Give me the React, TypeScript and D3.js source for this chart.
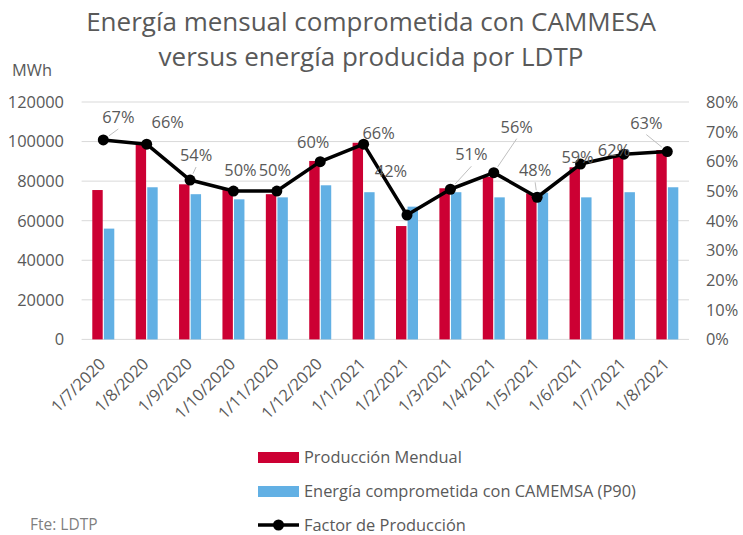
import React from "react";
import * as d3 from "d3";

const categories = ["1/7/2020","1/8/2020","1/9/2020","1/10/2020","1/11/2020","1/12/2020","1/1/2021","1/2/2021","1/3/2021","1/4/2021","1/5/2021","1/6/2021","1/7/2021","1/8/2021"];
const produccion = [75500, 98300, 78400, 75500, 73400, 90200, 99400, 57300, 76400, 82200, 73800, 87000, 92400, 95700];
const comprometida = [56000, 76900, 73400, 70800, 71800, 77900, 74400, 67100, 74400, 71800, 74200, 71800, 74400, 76900];
const factor = [0.672, 0.658, 0.537, 0.5, 0.5, 0.599, 0.658, 0.419, 0.506, 0.562, 0.479, 0.591, 0.624, 0.633];
const leftTicks = [0, 20000, 40000, 60000, 80000, 100000, 120000];
const rightTicks = [0, 0.1, 0.2, 0.3, 0.4, 0.5, 0.6, 0.7, 0.8];
const seriesNames = ["Producción Mendual", "Energía comprometida con CAMEMSA (P90)", "Factor de Producción"];
const titleLines = ["Energía mensual comprometida con CAMMESA", "versus energía producida por LDTP"];

// label placement (offset of label centre/baseline from its point) and leader flags
const labelLayout = [
  [15, -17, true], [21, -16, false], [6, -19, true], [7, -15, false], [-2, -15, false],
  [-7, -14, false], [15, -5, false], [-16, -38, false], [21, -29, true], [23, -40, true],
  [-2, -21, true], [-3, -1, false], [-10, 2, false], [-21, -23, true],
] as [number, number, boolean][];

const RED = "#CC0033";
const BLUE = "#62B0E4";
const TXT = "#595959";
const GRID = "#D9D9D9";
const FONT = "'Open Sans', sans-serif";

export default function App() {
  const W = 743, H = 535;
  const left = 81.6, right = 689, top = 102, bottom = 339.4;
  const x = d3.scaleBand<string>().domain(categories).range([left, right]).padding(0);
  const sub = d3.scaleBand<string>().domain(["p", "c"]).range([-11, 11]).paddingInner(0.1);
  const y = d3.scaleLinear().domain([0, 120000]).range([bottom, top]);
  const y2 = d3.scaleLinear().domain([0, 0.8]).range([bottom, top]);
  const cx = (c: string) => (x(c) as number) + x.bandwidth() / 2;
  const line = d3.line<number>().x((_, i) => cx(categories[i])).y((d) => y2(d));
  const pct = d3.format(".0%");
  const fs = 16.4;

  return (
    <svg width={W} height={H} style={{ position: "absolute", left: 0, top: 0, background: "#fff" }} fontFamily={FONT}>
      {titleLines.map((t, i) => (
        <text key={t} x={371} y={31 + i * 35} textAnchor="middle" fontSize={26} fill={TXT}>{t}</text>
      ))}
      <text x={12} y={76} fontSize={fs} fill={TXT}>MWh</text>
      {leftTicks.map((t) => (
        <g key={t}>
          <line x1={left} x2={right} y1={y(t)} y2={y(t)} stroke={GRID} strokeWidth={1} />
          <text x={64} y={y(t)} dy="0.36em" textAnchor="end" fontSize={fs} fill={TXT}>{t}</text>
        </g>
      ))}
      {rightTicks.map((t) => (
        <text key={t} x={706} y={y2(t)} dy="0.36em" fontSize={fs} fill={TXT}>{pct(t)}</text>
      ))}
      {categories.map((c, i) => (
        <g key={c}>
          <rect x={cx(c) + (sub("p") as number)} width={sub.bandwidth()} y={y(produccion[i])} height={y(0) - y(produccion[i])} fill={RED} />
          <rect x={cx(c) + (sub("c") as number)} width={sub.bandwidth()} y={y(comprometida[i])} height={y(0) - y(comprometida[i])} fill={BLUE} />
          <text transform={`translate(${cx(c) + 3},${365}) rotate(-45)`} textAnchor="end" fontSize={fs} fill={TXT}>{c}</text>
        </g>
      ))}
      {factor.map((v, i) => {
        const [dx, dy, leader] = labelLayout[i];
        const px = cx(categories[i]), py = y2(v);
        const lx = px + dx, ly = py + dy;
        if (!leader) return null;
        const sx = lx, sy = ly + 6;
        const ang = Math.atan2(py - sy, px - sx);
        const ex = px - Math.cos(ang) * 7, ey = py - Math.sin(ang) * 7;
        return <line key={i} x1={sx} y1={sy} x2={ex} y2={ey} stroke="#BFBFBF" strokeWidth={1} />;
      })}
      <path d={line(factor) as string} fill="none" stroke="#000" strokeWidth={3.5} strokeLinejoin="round" />
      {factor.map((v, i) => (
        <circle key={i} cx={cx(categories[i])} cy={y2(v)} r={5.5} fill="#000" />
      ))}
      {factor.map((v, i) => {
        const [dx, dy] = labelLayout[i];
        return (
          <text key={i} x={cx(categories[i]) + dx} y={y2(v) + dy} textAnchor="middle" fontSize={fs} fill={TXT}>{pct(v)}</text>
        );
      })}
      <rect x={258} y={452} width={41} height={11} fill={RED} />
      <text x={304} y={463} fontSize={fs} fill={TXT}>{seriesNames[0]}</text>
      <rect x={258} y={486} width={41} height={11} fill={BLUE} />
      <text x={304} y={497} fontSize={fs} fill={TXT}>{seriesNames[1]}</text>
      <line x1={258} x2={299} y1={525} y2={525} stroke="#000" strokeWidth={3.5} />
      <circle cx={278.5} cy={525} r={5.5} fill="#000" />
      <text x={304} y={530.5} fontSize={fs} fill={TXT}>{seriesNames[2]}</text>
      <text x={30} y={530} fontSize={15.5} fill="#7F7F7F">Fte: LDTP</text>
    </svg>
  );
}
